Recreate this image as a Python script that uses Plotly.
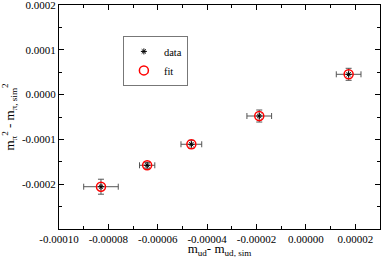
import plotly.graph_objects as go

# data
dm_ud = [-8.30e-5, -6.43e-5, -4.64e-5, -1.89e-5, 1.73e-5]
dm_ud_err = [0.70e-5, 0.31e-5, 0.42e-5, 0.50e-5, 0.50e-5]
dmpi2 = [-2.056e-4, -1.578e-4, -1.109e-4, -0.478e-4, 0.453e-4]
dmpi2_err = [0.167e-4, 0.065e-4, 0.09e-4, 0.134e-4, 0.134e-4]
fit_vals = [-2.056e-4, -1.578e-4, -1.109e-4, -0.478e-4, 0.453e-4]

x_tickvals = [-0.00010, -0.00008, -0.00006, -0.00004, -0.00002, 0.0, 0.00002]
x_ticktext = ["-0.00010", "-0.00008", "-0.00006", "-0.00004", "-0.00002", "0.00000", "0.00002"]
y_tickvals = [-0.0002, -0.0001, 0.0, 0.0001, 0.0002]
y_ticktext = ["-0.0002", "-0.0001", "0.0000", "0.0001", "0.0002"]

FONT = "Liberation Serif, Times New Roman, serif"

fig = go.Figure()
fig.add_trace(go.Scatter(
    x=dm_ud, y=dmpi2, mode="markers", name="data",
    marker=dict(symbol="asterisk-open", size=5, color="black",
                line=dict(color="black", width=1)),
    error_x=dict(type="data", array=dm_ud_err, color="#555555", thickness=1, width=3),
    error_y=dict(type="data", array=dmpi2_err, color="#555555", thickness=1, width=3),
))
fig.add_trace(go.Scatter(
    x=dm_ud, y=fit_vals, mode="markers", name="fit",
    marker=dict(symbol="circle-open", size=9, color="red",
                line=dict(color="red", width=1.5)),
))

axis_common = dict(
    showline=True, linecolor="black", linewidth=1, mirror="ticks",
    ticks="inside", ticklen=5, tickcolor="black", tickwidth=1,
    showgrid=False, zeroline=False, automargin=False,
    ticklabeloverflow="allow",
    tickfont=dict(family=FONT, size=11, color="black"),
)

fig.update_xaxes(
    range=[-0.00010, 0.00003], tickmode="array",
    tickvals=x_tickvals, ticktext=x_ticktext,
    minor=dict(ticks="inside", ticklen=3, tickcolor="black", dtick=0.00001,
               tick0=0, showgrid=False),
    title=dict(text="m<sub>ud</sub>- m<sub>ud, sim</sub>",
               font=dict(family=FONT, size=13, color="black"), standoff=0),
    **axis_common,
)
fig.update_yaxes(
    range=[-0.0003, 0.0002], tickmode="array",
    tickvals=y_tickvals, ticktext=y_ticktext,
    minor=dict(ticks="inside", ticklen=3, tickcolor="black", dtick=0.00005,
               tick0=0, showgrid=False),
    title=dict(text="m<sub>π</sub><sup>2</sup> - m<sub>π, sim</sub><sup>2</sup>",
               font=dict(family=FONT, size=13, color="black"), standoff=4),
    **axis_common,
)

fig.update_layout(
    width=382, height=258,
    margin=dict(l=59, r=2, t=5, b=29),
    paper_bgcolor="white", plot_bgcolor="white",
    showlegend=True,
    legend=dict(x=0.199, y=0.862, xanchor="left", yanchor="top",
                bordercolor="#777777", borderwidth=1, bgcolor="white",
                font=dict(family=FONT, size=10.5, color="black"),
                itemwidth=30, tracegroupgap=0),
)

fig.write_html("out.html", config={"displayModeBar": False},
               post_script="document.body.style.margin='0';")
